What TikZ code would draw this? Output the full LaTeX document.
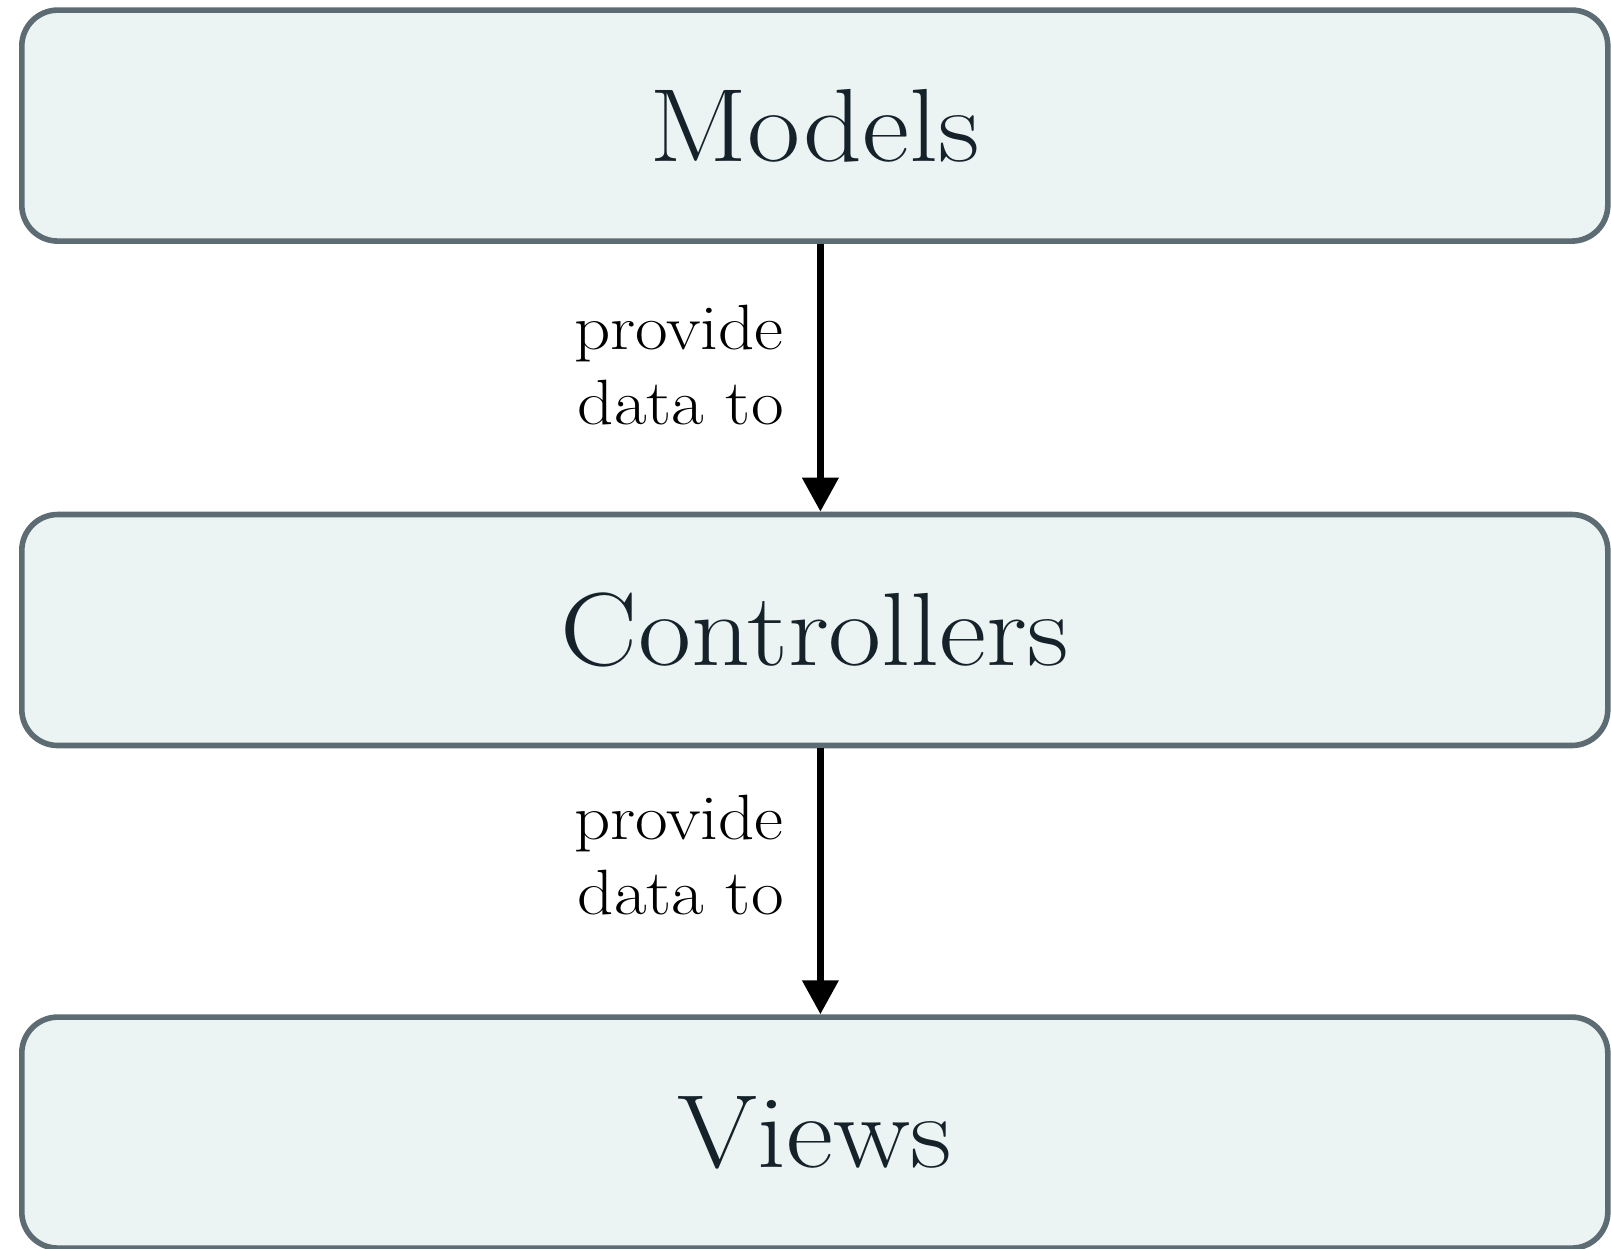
\documentclass[tikz,border=0pt]{standalone}
\usepackage{graphicx}
\usetikzlibrary{arrows.meta,calc}
\definecolor{boxfill}{HTML}{EBF4F3}
\definecolor{boxline}{HTML}{5D6B73}
\definecolor{boxtext}{HTML}{15222A}
% slightly widened lettering
\newcommand{\wide}[1]{\scalebox{1.11}[1]{#1}}
\tikzset{
  layer/.style={draw=boxline, fill=boxfill, line width=2.8pt, rounded corners=18pt,
    minimum width=793pt, minimum height=115.5pt, inner sep=0pt,
    text=boxtext, font=\fontsize{52}{60}\selectfont},
  flow/.style={line width=3.5pt, -{Triangle[width=17.5pt,length=17pt]}},
  flowlabel/.style={align=right, anchor=east, inner sep=0pt,
    font=\fontsize{32}{37.5}\selectfont}
}
\begin{document}
\begin{tikzpicture}[x=1pt,y=1pt]
  \useasboundingbox (0,0) rectangle (805.5,-624);
  % three stacked layers
  \node[layer] (models)      at (407.4,-62.8)  {\wide{Models}};
  \node[layer] (controllers) at (407.4,-315)   {\wide{Controllers}};
  \node[layer] (views)       at (407.4,-566.3) {\wide{Views}};
  % data flow between layers
  \draw[flow] ($(models.south)+(2.8,0)$) -- ($(controllers.north)+(2.8,0)$);
  \draw[flow] ($(controllers.south)+(2.8,0)$) -- ($(views.north)+(2.8,0)$);
  \node[flowlabel] (l1) at (392,-182.3) {\wide{provide}\\\wide{data to}};
  \node[flowlabel] (l2) at (392,-427.5) {\wide{provide}\\\wide{data to}};
\end{tikzpicture}
\end{document}
